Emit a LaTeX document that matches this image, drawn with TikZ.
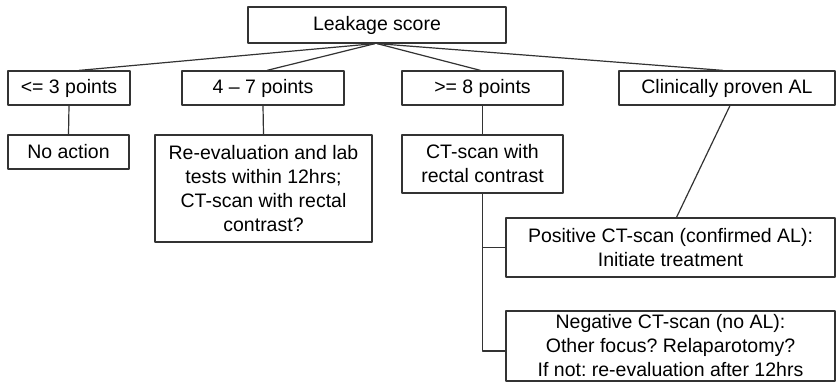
\documentclass[tikz,border=0pt]{standalone}
\usepackage{fontspec}
\setmainfont{Liberation Sans}
\frenchspacing
\begin{document}
\begin{tikzpicture}[x=1pt, y=-1pt, line join=round, line width=1.2pt, draw=black!80,
	font=\fontsize{19.5}{24}\selectfont,
	box/.style={draw=black!80, align=center, inner sep=0pt}]
	\useasboundingbox[fill=white] (0, 0) rectangle (836, 382);
	% top and the four score groups
	\node[box, minimum width=258, minimum height=36] (score) at (377, 25) {Leakage score};
	\node[box, minimum width=122, minimum height=34] (low) at (69, 88) {<= 3 points};
	\node[box, minimum width=162, minimum height=34] (mid) at (263, 88) {4 – 7 points};
	\node[box, minimum width=161, minimum height=34] (high) at (482.5, 88) {>= 8 points};
	\node[box, minimum width=216, minimum height=34] (clin) at (727, 88) {Clinically proven AL};
	% actions
	\node[box, minimum width=121, minimum height=34] (noact) at (68.5, 152) {No action};
	\node[box, minimum width=217, minimum height=107] (reeval) at (263.5, 188.5) {Re-evaluation and lab\\tests within 12hrs;\\CT-scan with rectal\\contrast?};
	\node[box, minimum width=161, minimum height=58] (ct) at (482.5, 164) {CT-scan with\\rectal contrast};
	\node[box, minimum width=329, minimum height=59] (pos) at (670.5, 247.5) {Positive CT-scan (confirmed AL):\\Initiate treatment};
	\node[box, minimum width=329, minimum height=70] (neg) at (670.5, 346) {Negative CT-scan (no AL):\\Other focus? Relaparotomy?\\If not: re-evaluation after 12hrs};
	% connectors
	\draw[black!80] ([xshift=-2]score.south) -- ([xshift=10]low.north);
	\draw[black!80] ([xshift=-2]score.south) -- ([xshift=4]mid.north);
	\draw[black!80] (score.south) -- ([xshift=-2]high.north);
	\draw[black!80] (score.south) -- ([xshift=-4]clin.north);
	\draw[black!80] (low.south) -- (noact.north);
	\draw[black!80] (mid.south) -- (reeval.north);
	\draw[black!80] (high.south) -- (ct.north);
	\draw[black!80] (ct.south) |- (pos.west);
	\draw[black!80] (ct.south) |- ([yshift=-5]neg.west);
	\draw[black!80] ([xshift=3]clin.south) -- ([xshift=6]pos.north);
\end{tikzpicture}
\end{document}
